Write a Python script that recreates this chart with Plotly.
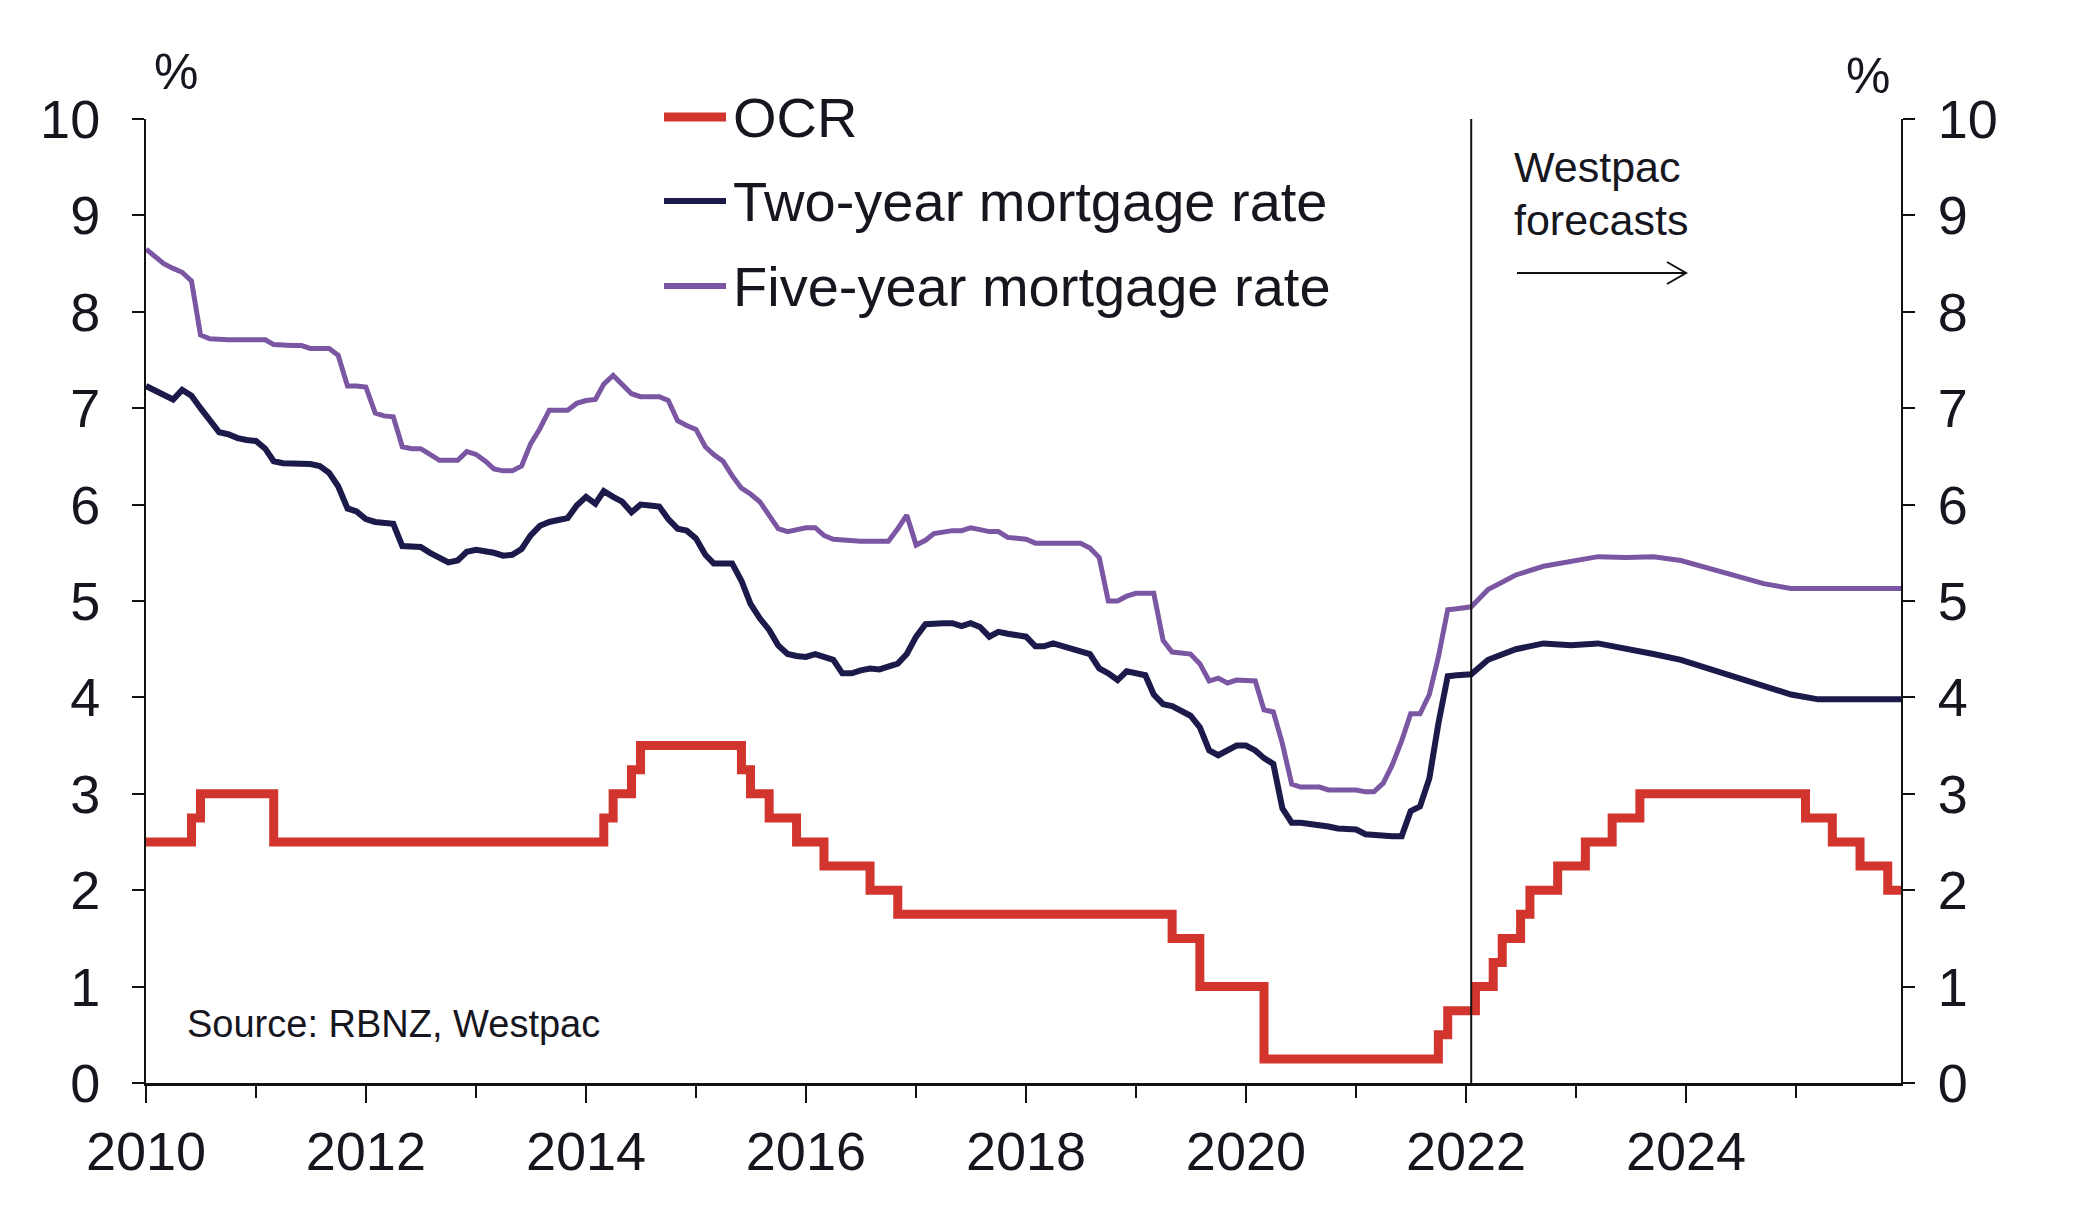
import pandas as pd
import plotly.graph_objects as go

# ---------------- data ----------------
hist_months = pd.date_range("2010-01-01", "2022-01-01", freq="MS")

five_year_hist = [
    8.65, 8.57, 8.50, 8.45, 8.41, 8.32, 7.76, 7.72, 7.71, 7.71, 7.71, 7.71,   # 2010
    7.71, 7.71, 7.66, 7.65, 7.65, 7.65, 7.62, 7.62, 7.62, 7.55, 7.23, 7.23,   # 2011
    7.22, 6.95, 6.92, 6.91, 6.60, 6.58, 6.58, 6.52, 6.46, 6.46, 6.46, 6.55,   # 2012
    6.52, 6.45, 6.37, 6.35, 6.35, 6.40, 6.63, 6.79, 6.98, 6.98, 6.98, 7.05,   # 2013
    7.08, 7.09, 7.25, 7.34, 7.25, 7.15, 7.12, 7.12, 7.12, 7.08, 6.87, 6.82,   # 2014
    6.78, 6.60, 6.52, 6.45, 6.30, 6.17, 6.11, 6.03, 5.88, 5.75, 5.72, 5.74,   # 2015
    5.76, 5.76, 5.68, 5.64, 5.63, 5.62, 5.62, 5.62, 5.62, 5.62, 5.75, 5.89,   # 2016
    5.58, 5.63, 5.70, 5.72, 5.73, 5.73, 5.76, 5.74, 5.72, 5.72, 5.66, 5.65,   # 2017
    5.64, 5.60, 5.60, 5.60, 5.60, 5.60, 5.60, 5.55, 5.45, 5.00, 5.00, 5.05,   # 2018
    5.08, 5.08, 5.08, 4.59, 4.47, 4.46, 4.45, 4.35, 4.17, 4.20, 4.15, 4.18,   # 2019
    4.17, 4.17, 3.87, 3.85, 3.52, 3.10, 3.07, 3.07, 3.07, 3.04, 3.04, 3.04,   # 2020
    3.04, 3.02, 3.02, 3.11, 3.30, 3.55, 3.83, 3.83, 4.03, 4.42, 4.91, 4.92,   # 2021
    4.94,                                                                     # 2022-01
]

two_year_hist = [
    7.23, 7.18, 7.15, 7.09, 7.19, 7.13, 7.00, 6.87, 6.75, 6.73, 6.69, 6.67,   # 2010
    6.66, 6.58, 6.45, 6.43, 6.43, 6.42, 6.42, 6.40, 6.33, 6.19, 5.96, 5.93,   # 2011
    5.85, 5.82, 5.81, 5.80, 5.57, 5.56, 5.56, 5.50, 5.45, 5.40, 5.42, 5.51,   # 2012
    5.53, 5.52, 5.50, 5.47, 5.48, 5.54, 5.68, 5.78, 5.82, 5.84, 5.86, 5.99,   # 2013
    6.08, 6.01, 6.14, 6.08, 6.03, 5.92, 6.00, 5.99, 5.98, 5.85, 5.75, 5.73,   # 2014
    5.65, 5.48, 5.39, 5.39, 5.39, 5.21, 4.97, 4.82, 4.70, 4.54, 4.45, 4.43,   # 2015
    4.42, 4.45, 4.42, 4.39, 4.25, 4.25, 4.28, 4.30, 4.29, 4.32, 4.35, 4.45,   # 2016
    4.63, 4.76, 4.77, 4.77, 4.77, 4.74, 4.77, 4.73, 4.63, 4.68, 4.66, 4.65,   # 2017
    4.63, 4.53, 4.53, 4.56, 4.53, 4.50, 4.47, 4.45, 4.30, 4.25, 4.18, 4.27,   # 2018
    4.25, 4.23, 4.03, 3.93, 3.91, 3.86, 3.81, 3.69, 3.45, 3.40, 3.45, 3.50,   # 2019
    3.50, 3.45, 3.37, 3.31, 2.85, 2.70, 2.70, 2.69, 2.68, 2.66, 2.64, 2.63,   # 2020
    2.63, 2.58, 2.57, 2.56, 2.56, 2.56, 2.82, 2.87, 3.16, 3.73, 4.22, 4.23,   # 2021
    4.24,                                                                     # 2022-01
]

forecast_dates = [
    "2022-01-01", "2022-01-18", "2022-03-15", "2022-06-15", "2022-09-15", "2022-12-15",
    "2023-03-15", "2023-06-15", "2023-09-15", "2023-12-15",
    "2024-03-15", "2024-06-15", "2024-09-15", "2024-12-15",
    "2025-03-15", "2025-06-15", "2025-09-15", "2025-12-15",
]
five_year_fc = [4.94, 4.94, 5.12, 5.27, 5.36, 5.41, 5.46, 5.45, 5.46, 5.42,
                5.34, 5.27, 5.18, 5.13, 5.13, 5.13, 5.13, 5.13]
two_year_fc = [4.24, 4.24, 4.39, 4.50, 4.56, 4.54, 4.56, 4.51, 4.45, 4.39,
               4.30, 4.22, 4.12, 4.03, 3.98, 3.98, 3.98, 3.98]

ocr_dates = [
    "2010-01-01", "2010-06-01", "2010-07-01", "2011-03-01", "2014-03-01", "2014-04-01",
    "2014-06-01", "2014-07-01", "2015-06-01", "2015-07-01", "2015-09-01", "2015-12-01",
    "2016-03-01", "2016-08-01", "2016-11-01", "2019-05-01", "2019-08-01", "2020-03-01",
    "2021-10-01", "2021-11-01", "2022-02-01", "2022-04-01", "2022-05-01", "2022-07-01",
    "2022-08-01", "2022-11-01", "2023-02-01", "2023-05-01", "2023-08-01", "2025-02-01",
    "2025-05-01", "2025-08-01", "2025-11-01", "2025-12-15",
]
ocr_values = [
    2.5, 2.75, 3.0, 2.5, 2.75, 3.0,
    3.25, 3.5, 3.25, 3.0, 2.75, 2.5,
    2.25, 2.0, 1.75, 1.5, 1.0, 0.25,
    0.5, 0.75, 1.0, 1.25, 1.5, 1.75,
    2.0, 2.25, 2.5, 2.75, 3.0, 2.75,
    2.5, 2.25, 2.0, 2.0,
]

series_names = ["OCR", "Two-year mortgage rate", "Five-year mortgage rate"]
forecast_start = "2022-01-18"
x_range = ["2010-01-01", "2025-12-15"]
y_ticks = list(range(0, 11))

# ---------------- styling ----------------
W, H = 2078, 1212
ML, MR, MT, MB = 146, 177, 119, 129
PW, PH = W - ML - MR, H - MT - MB
FONT = "Liberation Sans, Arial, Helvetica, sans-serif"
TXT = "#16161f"
RED = "#d1352e"
NAVY = "#1c1a4b"
PURPLE = "#7b56a2"


def px(xp):
    return (xp - ML) / PW


def py(yp):
    return (MT + PH - yp) / PH


hist_x = [d.strftime("%Y-%m-%d") for d in hist_months]

fig = go.Figure()
fig.add_trace(go.Scatter(x=hist_x + forecast_dates[1:], y=five_year_hist + five_year_fc[1:],
                         mode="lines", line=dict(color=PURPLE, width=5),
                         name=series_names[2], showlegend=False, hoverinfo="skip"))
fig.add_trace(go.Scatter(x=hist_x + forecast_dates[1:], y=two_year_hist + two_year_fc[1:],
                         mode="lines", line=dict(color=NAVY, width=6),
                         name=series_names[1], showlegend=False, hoverinfo="skip"))
fig.add_trace(go.Scatter(x=ocr_dates, y=ocr_values, mode="lines",
                         line=dict(color=RED, width=9, shape="hv"),
                         name=series_names[0], showlegend=False, hoverinfo="skip",
                         yaxis="y2"))

axis_common = dict(
    range=[0, 10], tickmode="array", tickvals=y_ticks, ticktext=[str(v) for v in y_ticks],
    ticks="outside", ticklen=12, tickwidth=2, tickcolor="#111",
    showline=True, linewidth=2, linecolor="#111", showgrid=False, zeroline=False,
    tickfont=dict(family=FONT, size=54, color=TXT), fixedrange=True,
)

fig.update_layout(
    width=W, height=H,
    margin=dict(l=ML, r=MR, t=MT, b=MB, pad=0),
    paper_bgcolor="white", plot_bgcolor="white",
    showlegend=False,
    xaxis=dict(
        type="date", range=x_range, tick0="2010-01-01", dtick="M24", tickformat="%Y",
        ticks="outside", ticklen=17, tickwidth=2, tickcolor="#111",
        minor=dict(dtick="M12", ticks="outside", ticklen=12, tickwidth=2, tickcolor="#111"),
        showline=True, linewidth=3, linecolor="#111", showgrid=False, zeroline=False,
        tickfont=dict(family=FONT, size=54, color=TXT), ticklabelstandoff=2,
    ),
    yaxis=dict(**axis_common, side="left", ticklabelstandoff=21),
    yaxis2=dict(**axis_common, side="right", overlaying="y", ticklabelstandoff=12),
)

# forecast divider
fig.add_shape(type="line", xref="x", yref="y", x0=forecast_start, x1=forecast_start,
              y0=0, y1=10, line=dict(color="#111", width=2))

# custom legend
legend_rows = [(117, RED, 9), (201, NAVY, 6), (286, PURPLE, 6)]
for (yc, col, lw), name in zip(legend_rows, series_names):
    fig.add_shape(type="line", xref="paper", yref="paper", x0=px(664), x1=px(726),
                  y0=py(yc), y1=py(yc), line=dict(color=col, width=lw))
    fig.add_annotation(xref="paper", yref="paper", x=px(731), y=py(yc), text=name,
                       showarrow=False, xanchor="left", yanchor="middle",
                       font=dict(family=FONT, size=56, color=TXT))

# percent labels
for xc, yc in [(176, 72), (1868, 76)]:
    fig.add_annotation(xref="paper", yref="paper", x=px(xc), y=py(yc), text="%",
                       showarrow=False, xanchor="center", yanchor="middle",
                       font=dict(family=FONT, size=50, color=TXT))

# forecast label and arrow
fig.add_annotation(xref="paper", yref="paper", x=px(1512), y=py(167), text="Westpac",
                   showarrow=False, xanchor="left", yanchor="middle",
                   font=dict(family=FONT, size=43, color=TXT))
fig.add_annotation(xref="paper", yref="paper", x=px(1512), y=py(220), text="forecasts",
                   showarrow=False, xanchor="left", yanchor="middle",
                   font=dict(family=FONT, size=43, color=TXT))
ay = 273
fig.add_shape(type="path", xref="paper", yref="paper",
              path=(f"M {px(1517)},{py(ay)} L {px(1686)},{py(ay)} "
                    f"M {px(1667)},{py(ay - 11)} L {px(1686)},{py(ay)} L {px(1667)},{py(ay + 11)}"),
              line=dict(color="#111", width=2))

# source
fig.add_annotation(xref="paper", yref="paper", x=px(185), y=py(1024),
                   text="Source: RBNZ, Westpac", showarrow=False,
                   xanchor="left", yanchor="middle",
                   font=dict(family=FONT, size=38, color=TXT))

fig.write_html("out.html")
